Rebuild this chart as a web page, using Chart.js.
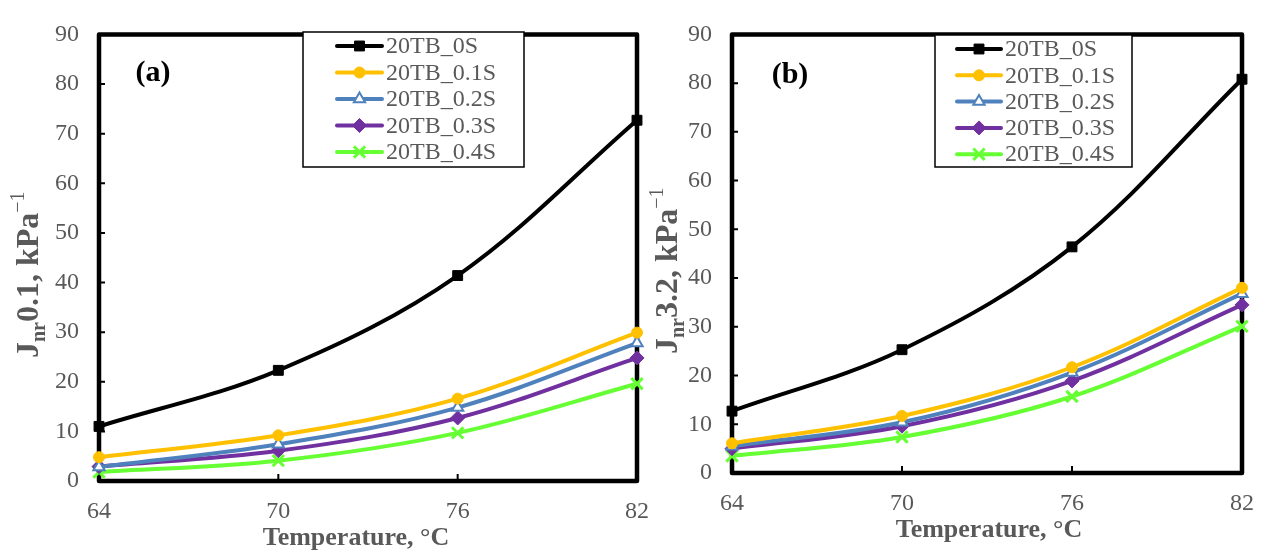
<!DOCTYPE html>
<html>
<head>
<meta charset="utf-8">
<script src="https://cdn.jsdelivr.net/npm/chart.js@4.4.1/dist/chart.umd.min.js"></script>
<style>
  html, body { margin: 0; padding: 0; background: #fff; }
  #wrap { position: relative; width: 1270px; height: 550px; overflow: hidden; }
  .panel { position: absolute; top: 0; height: 550px; }
  #pa { left: 0; width: 665px; }
  #pb { left: 620px; width: 650px; }
</style>
</head>
<body>
<div id="wrap">
  <div class="panel" id="pa"><canvas id="chartA"></canvas></div>
  <div class="panel" id="pb"><canvas id="chartB"></canvas></div>
</div>
<script>
// ── datos ────────────────────────────────────────────────────────────────
const temps  = ['64', '70', '76', '82'];
const yTicks = [0, 10, 20, 30, 40, 50, 60, 70, 80, 90];
const series = ['20TB_0S', '20TB_0.1S', '20TB_0.2S', '20TB_0.3S', '20TB_0.4S'];

// (a) Jnr0.1
const a_0S  = [11.0, 22.3, 41.4, 72.7];
const a_01S = [4.8, 9.2, 16.6, 29.9];
const a_02S = [2.8, 7.4, 14.8, 27.8];
const a_03S = [2.9, 6.1, 12.7, 24.8];
const a_04S = [1.8, 4.1, 9.7, 19.6];

// (b) Jnr3.2
const b_0S  = [12.7, 25.3, 46.4, 80.8];
const b_01S = [6.1, 11.7, 21.7, 38.0];
const b_02S = [5.5, 10.4, 20.6, 36.8];
const b_03S = [5.0, 9.6, 18.9, 34.5];
const b_04S = [3.5, 7.4, 15.7, 30.1];

const GRIS = '#595959';
const SERIF = '"Liberation Serif", "Times New Roman", serif';

// estilo de cada serie
const estilos = [
  { color: '#000000', point: 'rect',     radius: 7,   fill: '#000000', bw: 1 },
  { color: '#FFC000', point: 'circle',   radius: 5.5, fill: '#FFC000', bw: 1 },
  { color: '#4F81BD', point: 'triangle', radius: 6.5, fill: '#FFFFFF', bw: 2 },
  { color: '#7030A0', point: 'rectRot',  radius: 7,   fill: '#7030A0', bw: 1 },
  { color: '#66FF33', point: 'crossRot', radius: 8,   fill: '#66FF33', bw: 3 }
];

function hacerDatasets(valores) {
  return valores.map(function (v, i) {
    const e = estilos[i];
    return {
      label: series[i],
      data: v,
      borderColor: e.color,
      backgroundColor: e.color,
      borderWidth: 4,
      tension: 0.35,
      pointStyle: e.point,
      pointRadius: e.radius,
      pointBackgroundColor: e.fill,
      pointBorderColor: e.color,
      pointBorderWidth: e.bw,
      clip: false
    };
  });
}

// ── plugin: marco, marcas interiores, títulos, leyenda ───────────────────
const decor = {
  id: 'decor',
  beforeDatasetsDraw(chart, args, o) {
    const ctx = chart.ctx, a = chart.chartArea;
    const sx = chart.scales.x, sy = chart.scales.y;
    ctx.save();
    ctx.strokeStyle = '#000';
    ctx.lineWidth = 2;
    ctx.beginPath();
    yTicks.forEach(function (t) {
      const y = sy.getPixelForValue(t);
      ctx.moveTo(a.left, y); ctx.lineTo(a.left + 6, y);
    });
    temps.forEach(function (t, i) {
      const x = sx.getPixelForValue(i);
      ctx.moveTo(x, a.bottom); ctx.lineTo(x, a.bottom - 7);
    });
    ctx.stroke();
    ctx.lineWidth = 4.5;
    ctx.lineJoin = 'round';
    ctx.strokeRect(a.left, a.top, a.right - a.left, a.bottom - a.top);
    ctx.restore();
  },
  afterDraw(chart, args, o) {
    const ctx = chart.ctx, a = chart.chartArea;
    ctx.save();

    // etiqueta (a)/(b)
    ctx.fillStyle = '#000';
    ctx.font = 'bold 30px ' + SERIF;
    ctx.textAlign = 'center';
    ctx.textBaseline = 'middle';
    ctx.fillText(o.panel, a.left + o.panelDx, a.top + o.panelDy);

    // título eje x
    ctx.fillStyle = GRIS;
    ctx.font = 'bold 26px ' + SERIF;
    ctx.fillText('Temperature, \u00B0C', (a.left + a.right) / 2 + o.xTitleDx, a.bottom + 57);

    // título eje y con subíndice y superíndice
    ctx.translate(a.left + o.yTitleDx, (a.top + a.bottom) / 2 + 17);
    ctx.rotate(-Math.PI / 2);
    ctx.textAlign = 'left';
    ctx.textBaseline = 'alphabetic';
    const partes = [
      { t: 'J',  f: 'bold 32px ' + SERIF, dy: 0 },
      { t: 'nr', f: 'bold 20px ' + SERIF, dy: 7 },
      { t: o.yMain + ', kPa', f: 'bold 32px ' + SERIF, dy: 0 },
      { t: '\u22121', f: '20px ' + SERIF, dy: -14 }
    ];
    let total = 0;
    partes.forEach(function (p) { ctx.font = p.f; p.w = ctx.measureText(p.t).width; total += p.w; });
    let x = -total / 2;
    partes.forEach(function (p) { ctx.font = p.f; ctx.fillText(p.t, x, p.dy); x += p.w; });
    ctx.restore();

    // leyenda
    ctx.save();
    const L = o.legend;
    ctx.fillStyle = '#fff';
    ctx.fillRect(L.x, L.y, L.w, L.h);
    ctx.strokeStyle = '#000';
    ctx.lineWidth = 1.5;
    ctx.strokeRect(L.x, L.y, L.w, L.h);
    chart.data.datasets.forEach(function (ds, i) {
      const cy = L.row0 + i * L.rowH;
      ctx.strokeStyle = ds.borderColor;
      ctx.lineWidth = 4;
      ctx.lineCap = 'round';
      ctx.beginPath();
      ctx.moveTo(L.lx0, cy); ctx.lineTo(L.lx1, cy);
      ctx.stroke();
      ctx.lineCap = 'butt';
      ctx.fillStyle = ds.pointBackgroundColor;
      ctx.strokeStyle = ds.pointBorderColor;
      ctx.lineWidth = ds.pointBorderWidth;
      Chart.helpers.drawPoint(ctx, {
        pointStyle: ds.pointStyle, radius: ds.pointRadius,
        borderWidth: ds.pointBorderWidth, rotation: 0
      }, (L.lx0 + L.lx1) / 2, cy);
      ctx.fillStyle = GRIS;
      ctx.font = '24px ' + SERIF;
      ctx.textAlign = 'left';
      ctx.textBaseline = 'middle';
      ctx.fillText(ds.label, L.tx, cy + 1);
    });
    ctx.restore();
  }
};

// ── creación de gráficos ─────────────────────────────────────────────────
function crearGrafico(id, valores, cfg) {
  return new Chart(document.getElementById(id), {
    type: 'line',
    data: { labels: temps, datasets: hacerDatasets(valores) },
    plugins: [decor],
    options: {
      responsive: true,
      maintainAspectRatio: false,
      animation: false,
      layout: { padding: { top: cfg.top, right: cfg.right, left: 0, bottom: 0 } },
      plugins: {
        legend: { display: false },
        tooltip: { enabled: false },
        decor: cfg.decor
      },
      scales: {
        x: {
          type: 'category',
          offset: false,
          grid: { display: false, drawTicks: false },
          border: { display: false },
          ticks: { color: GRIS, font: { family: SERIF, size: 24 }, padding: 16, maxRotation: 0 },
          afterFit: function (s) { s.height = cfg.xHeight; }
        },
        y: {
          min: 0, max: 90,
          afterBuildTicks: function (s) { s.ticks = yTicks.map(function (v) { return { value: v }; }); },
          grid: { display: false, drawTicks: false },
          border: { display: false },
          ticks: { color: GRIS, font: { family: SERIF, size: 24 }, padding: 20 },
          afterFit: function (s) { s.width = cfg.yWidth; }
        }
      }
    }
  });
}

crearGrafico('chartA', [a_0S, a_01S, a_02S, a_03S, a_04S], {
  top: 24, right: 26, yWidth: 99, xHeight: 69,
  decor: {
    panel: '(a)', panelDx: 54, panelDy: 39, yMain: '0.1', yTitleDx: -61, xTitleDx: -12,
    legend: { x: 303, y: 32, w: 221, h: 135, row0: 46, rowH: 26.5, lx0: 337, lx1: 382, tx: 386 }
  }
});

const OFF_B = 620;
crearGrafico('chartB', [b_0S, b_01S, b_02S, b_03S, b_04S], {
  top: 25, right: 20, yWidth: 732 - OFF_B, xHeight: 77,
  decor: {
    panel: '(b)', panelDx: 58, panelDy: 41, yMain: '3.2', yTitleDx: -55, xTitleDx: 2,
    legend: { x: 935 - OFF_B, y: 35, w: 197, h: 132, row0: 49, rowH: 26.3, lx0: 957 - OFF_B, lx1: 1001 - OFF_B, tx: 1005 - OFF_B }
  }
});
</script>
</body>
</html>
